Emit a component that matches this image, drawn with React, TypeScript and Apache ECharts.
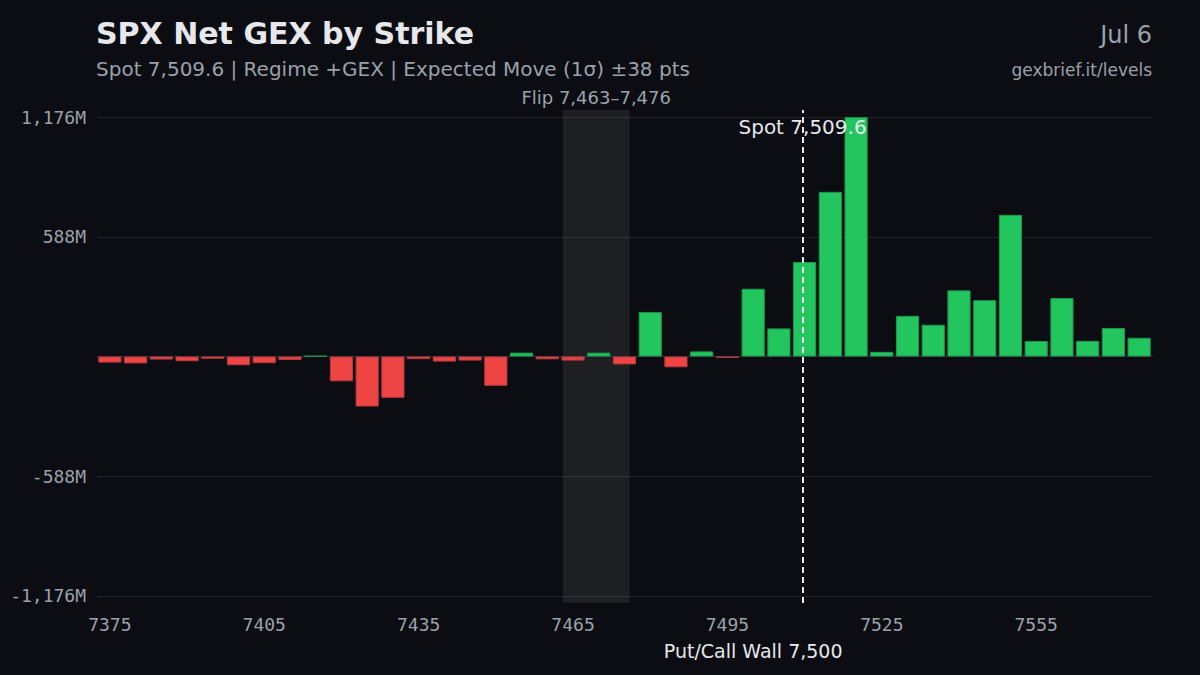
import React, { useEffect, useRef } from "react";
import * as echarts from "echarts";

const strikes = [
  7375, 7380, 7385, 7390, 7395, 7400, 7405, 7410, 7415, 7420, 7425, 7430, 7435, 7440,
  7445, 7450, 7455, 7460, 7465, 7470, 7475, 7480, 7485, 7490, 7495, 7500, 7505, 7510,
  7515, 7520, 7525, 7530, 7535, 7540, 7545, 7550, 7555, 7560, 7565, 7570, 7575,
];
const netGex = [
  -30, -34, -15, -23, -11, -43, -33, -17, 3, -122, -246, -203, -13, -25,
  -20, -144, 19, -14, -20, 19, -39, 218, -53, 25, -6, 333, 138, 464,
  809, 1176, 23, 200, 156, 325, 277, 696, 76, 287, 77, 140, 92,
];
const yTicks = [-1176, -588, 588, 1176];
const spot = 7509.6;
const flipLow = 7463;
const flipHigh = 7476;
const wall = 7500;

const titleText = "SPX Net GEX by Strike";
const subtitleText = "Spot 7,509.6 | Regime +GEX | Expected Move (1σ) ±38 pts";
const dateText = "Jul 6";
const siteText = "gexbrief.it/levels";

const BG = "#0b0d12";
const MUTED = "#9ba1aa";
const LIGHT = "#e6e8ec";
const SANS = "DejaVu Sans";
const MONO = "DejaVu Sans Mono";

export default function App() {
  const ref = useRef<HTMLDivElement>(null);
  useEffect(() => {
    document.body.style.margin = "0";
    document.body.style.background = BG;
    const chart = echarts.init(ref.current!, null, { renderer: "svg" });
    const yMax = yTicks[yTicks.length - 1] * 1.03;
    chart.setOption({
      animation: false,
      backgroundColor: BG,
      title: [
        { text: titleText, left: 96, top: 18, padding: 0, textStyle: { color: LIGHT, fontSize: 30, fontWeight: "bold", fontFamily: SANS } },
        { text: subtitleText, left: 96, top: 59, padding: 0, textStyle: { color: MUTED, fontSize: 20, fontWeight: "normal", fontFamily: SANS } },
        { text: dateText, right: 48, top: 23, padding: 0, textStyle: { color: MUTED, fontSize: 24, fontWeight: "normal", fontFamily: SANS } },
        { text: siteText, right: 48, top: 61, padding: 0, textStyle: { color: MUTED, fontSize: 17, fontWeight: "normal", fontFamily: SANS } },
      ],
      grid: { left: 97, right: 48, top: 110, bottom: 72 },
      xAxis: [
        {
          type: "category",
          data: strikes.map(String),
          axisLine: { show: true, onZero: true, lineStyle: { color: "#2b333e", width: 1 } },
          axisTick: { show: false },
          axisLabel: { interval: 5, color: MUTED, fontSize: 18, fontFamily: MONO, margin: 12 },
          splitLine: { show: false },
        },
        {
          type: "value",
          min: strikes[0] - 2.5,
          max: strikes[strikes.length - 1] + 2.5,
          show: false,
          splitLine: { show: false },
        },
      ],
      yAxis: {
        type: "value",
        min: -yMax,
        max: yMax,
        axisLine: { show: false },
        axisTick: { show: false, customValues: yTicks },
        axisLabel: {
          customValues: yTicks,
          color: MUTED,
          fontSize: 18,
          fontFamily: MONO,
          margin: 11,
          formatter: (v: number) => Math.round(v).toLocaleString("en-US") + "M",
        },
        splitLine: { show: true, lineStyle: { color: "#1e242c", width: 1 } },
      },
      series: [
        {
          type: "bar",
          data: netGex.map((v) => ({
            value: v,
            itemStyle: v >= 0
              ? { color: "#22c55e", borderColor: "#1c9a4c" }
              : { color: "#ef4444", borderColor: "#b83a3c" },
          })),
          barCategoryGap: "10%",
          itemStyle: { borderWidth: 1 },
          z: 2,
        },
        {
          type: "scatter",
          xAxisIndex: 1,
          data: [[spot, 1128]],
          symbolSize: 1,
          itemStyle: { color: "transparent", opacity: 1 },
          label: {
            show: true,
            position: "inside",
            formatter: "Spot 7,509.6",
            color: LIGHT,
            opacity: 1,
            textBorderWidth: 0,
            fontSize: 20,
            fontFamily: SANS,
          },
          z: 5,
          markArea: {
            silent: true,
            itemStyle: { color: "rgba(255,255,255,0.075)" },
            label: { show: true, position: "top", distance: 4, color: MUTED, fontSize: 18, fontFamily: SANS },
            data: [[{ xAxis: flipLow, name: "Flip 7,463–7,476" }, { xAxis: flipHigh }]],
          },
          markLine: {
            silent: true,
            symbol: "none",
            data: [
              {
                xAxis: spot,
                lineStyle: { color: LIGHT, width: 2, type: [6, 4] },
                label: { show: false },
              },
              {
                xAxis: wall,
                lineStyle: { color: "transparent", width: 1 },
                label: {
                  show: true,
                  position: "start",
                  distance: 38,
                  formatter: "Put/Call Wall 7,500",
                  color: LIGHT,
                  fontSize: 19,
                  fontFamily: SANS,
                },
              },
            ],
          },
        },
      ],
    });
    return () => chart.dispose();
  }, []);
  return <div ref={ref} style={{ width: 1200, height: 675 }} />;
}
